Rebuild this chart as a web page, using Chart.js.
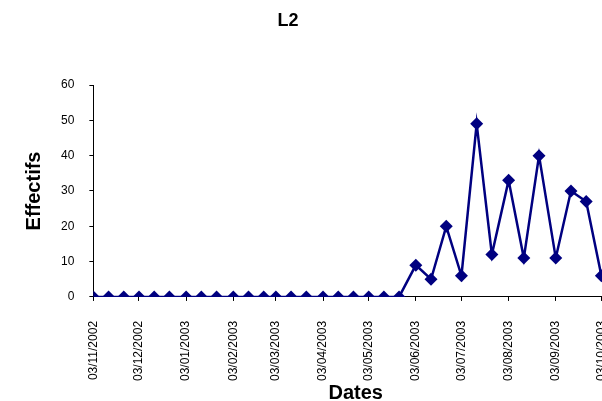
<!DOCTYPE html>
<html>
<head>
<meta charset="utf-8">
<script src="https://cdn.jsdelivr.net/npm/chart.js@4"></script>
<style>
  html, body { margin: 0; padding: 0; background: #fff; overflow: hidden; }
  #wrap { width: 636px; height: 409px; }
</style>
</head>
<body>
<div id="wrap"><canvas id="myChart"></canvas></div>
<script>
// data (one point every 10 days)
var chartTitle = 'L2';
var dates = [
  '03/11/2002','13/11/2002','23/11/2002',
  '03/12/2002','13/12/2002','23/12/2002',
  '03/01/2003','13/01/2003','23/01/2003',
  '03/02/2003','13/02/2003','23/02/2003',
  '03/03/2003','13/03/2003','23/03/2003',
  '03/04/2003','13/04/2003','23/04/2003',
  '03/05/2003','13/05/2003','23/05/2003',
  '03/06/2003','13/06/2003','23/06/2003',
  '03/07/2003','13/07/2003','23/07/2003',
  '03/08/2003','13/08/2003','23/08/2003',
  '03/09/2003','13/09/2003','23/09/2003',
  '03/10/2003'
];
var effectifs = [
  0,0,0, 0,0,0, 0,0,0, 0,0,0, 0,0,0, 0,0,0, 0,0,0,
  9,5,20, 6,49,12, 33,11,40, 11,30,27, 6
];
var tickLabels = [
  '03/11/2002','03/12/2002','03/01/2003','03/02/2003','03/03/2003','03/04/2003',
  '03/05/2003','03/06/2003','03/07/2003','03/08/2003','03/09/2003','03/10/2003'
];
var axisEnd = '14/10/2003';
var yTicks = [0, 10, 20, 30, 40, 50, 60];

// date string -> days since first date
function toDay(s) {
    var p = s.split('/');
    var t = Date.UTC(+p[2], +p[1] - 1, +p[0]);
    var q = dates[0].split('/');
    return Math.round((t - Date.UTC(+q[2], +q[1] - 1, +q[0])) / 86400000);
}

var points = dates.map(function (d, i) { return { x: toDay(d), y: effectifs[i] }; });
var tickDays = tickLabels.map(toDay);

var font = '"Liberation Sans", Arial, sans-serif';

var titlePlugin = {
    id: 'topTitle',
    afterDraw: function (chart) {
        var c = chart.ctx;
        c.save();
        c.font = 'bold 18px ' + font;
        c.fillStyle = '#000';
        c.textAlign = 'center';
        c.textBaseline = 'middle';
        c.fillText(chartTitle, 288, 21);
        c.restore();
    }
};

var ctx = document.getElementById('myChart').getContext('2d');
var myChart = new Chart(ctx, {
    type: 'line',
    data: {
        datasets: [{
            label: 'Effectifs',
            data: points,
            borderColor: '#000080',
            backgroundColor: '#000080',
            borderWidth: 2.5,
            pointStyle: 'rectRot',
            pointRadius: 6.5,
            pointBorderWidth: 0,
            tension: 0
        }]
    },
    options: {
        responsive: true,
        maintainAspectRatio: false,
        animation: false,
        layout: { padding: { top: 85, left: 0, right: 3, bottom: 0 } },
        plugins: {
            legend: { display: false },
            tooltip: { enabled: false }
        },
        scales: {
            x: {
                type: 'linear',
                min: 0,
                max: toDay(axisEnd),
                afterBuildTicks: function (scale) {
                    scale.ticks = tickDays.map(function (v) { return { value: v }; });
                },
                ticks: {
                    autoSkip: false,
                    minRotation: 90,
                    maxRotation: 90,
                    padding: 20,
                    color: '#000',
                    font: { family: font, size: 12 },
                    callback: function (value) {
                        var i = tickDays.indexOf(value);
                        return i >= 0 ? tickLabels[i] : '';
                    }
                },
                grid: { drawOnChartArea: false, drawTicks: true, tickLength: 4, color: '#000' },
                border: { display: true, color: '#000', width: 1 },
                title: {
                    display: true,
                    text: 'Dates',
                    color: '#000',
                    font: { family: font, size: 20, weight: 'bold' },
                    padding: { top: -20, bottom: 4 }
                }
            },
            y: {
                min: 0,
                max: 60,
                afterBuildTicks: function (scale) {
                    scale.ticks = yTicks.map(function (v) { return { value: v }; });
                },
                ticks: {
                    padding: 15,
                    color: '#000',
                    font: { family: font, size: 12 }
                },
                grid: { drawOnChartArea: false, drawTicks: true, tickLength: 4, color: '#000' },
                border: { display: true, color: '#000', width: 1 },
                title: {
                    display: true,
                    text: 'Effectifs',
                    color: '#000',
                    font: { family: font, size: 20, weight: 'bold' },
                    padding: { top: 22, bottom: 0 }
                }
            }
        }
    },
    plugins: [titlePlugin]
});
</script>
</body>
</html>
